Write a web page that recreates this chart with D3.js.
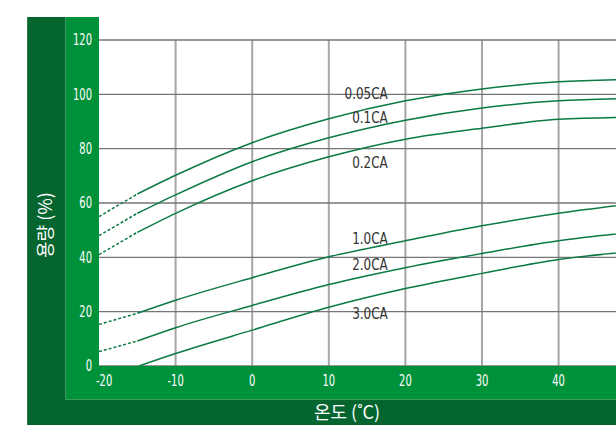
<!DOCTYPE html>
<html>
<head>
<meta charset="utf-8">
<script src="https://cdn.jsdelivr.net/npm/d3@7"></script>
<style>
  html, body { margin: 0; padding: 0; background: #fff; }
  svg { display: block; }
  .num { font-family: "DejaVu Sans Condensed", "Liberation Sans Narrow", "Roboto", sans-serif; }
  .kr { font-family: "Noto Sans CJK KR", "Noto Sans", sans-serif; }
</style>
</head>
<body>
<svg id="chart" width="616" height="425"></svg>
<script>
// ---- data ----
const temps = [-20, -15, -10, 0, 10, 20, 30, 40, 50];
const temps30 = [-14.8, -10, 0, 10, 20, 30, 40, 50];
const seriesNames = ["0.05CA", "0.1CA", "0.2CA", "1.0CA", "2.0CA", "3.0CA"];
const cap005 = [55, 63.3, 70.2, 82.2, 91, 97.6, 102, 104.6, 105.5];
const cap01  = [48, 56.2, 63, 75.2, 84, 90.5, 95, 97.6, 98.5];
const cap02  = [41, 49.2, 56.2, 68.2, 77, 83.5, 87.5, 90.8, 91.6];
const cap10  = [15.3, 19.4, 24.2, 32.5, 40.2, 46.1, 51.6, 56.2, 59.8];
const cap20  = [5.3, 9.2, 14.1, 22.3, 30, 36.2, 41.4, 46.1, 49.3];
const cap30  = [0, 4.6, 13.2, 21.6, 28.5, 34.1, 39.2, 42.2];
const dashedUntil = -15;           // below this temperature the curves are dashed
const labelTemp = 17.7;            // label right edge, in °C
const labelCap = [100.5, 91.6, 74.8, 47.1, 37.5, 19.5];
const xTicks = [-20, -10, 0, 10, 20, 30, 40];
const yTicks = [0, 20, 40, 60, 80, 100, 120];
const xTitle = "온도 (˚C)";
const yTitle = "용량 (%)";

// ---- layout ----
const W = 616, H = 425;
const plot = { left: 99, top: 40, right: 616, bottom: 366 };
const darkG = "#05652f", lightG = "#00913b", lineC = "#0b7a44";

const svg = d3.select("#chart");
const x = d3.scaleLinear().domain([-20, 50]).range([plot.left, plot.left + 7 * 76.6]);
const y = d3.scaleLinear().domain([0, 120]).range([plot.bottom, plot.top]);

// frame panels
svg.append("rect").attr("x", 27).attr("y", 17).attr("width", 38).attr("height", H - 17).attr("fill", darkG);
svg.append("rect").attr("x", 27).attr("y", 399).attr("width", W - 27).attr("height", H - 399).attr("fill", darkG);
svg.append("rect").attr("x", 65).attr("y", 17).attr("width", plot.left - 65).attr("height", 399 - 17).attr("fill", lightG);
svg.append("rect").attr("x", 65).attr("y", plot.bottom).attr("width", W - 65).attr("height", 399 - plot.bottom).attr("fill", lightG);
// subtle separator lines
svg.append("line").attr("x1", 65.5).attr("x2", 65.5).attr("y1", 17).attr("y2", 399).attr("stroke", "#3f9a62").attr("stroke-width", 1);
svg.append("line").attr("x1", 65).attr("x2", W).attr("y1", 399.5).attr("y2", 399.5).attr("stroke", "#3f9a62").attr("stroke-width", 1);
svg.append("line").attr("x1", 27.5).attr("x2", 27.5).attr("y1", 17).attr("y2", H).attr("stroke", "#2f7f4d").attr("stroke-width", 1);

// clip
svg.append("clipPath").attr("id", "clip").append("rect")
  .attr("x", plot.left).attr("y", plot.top - 2)
  .attr("width", plot.right - plot.left).attr("height", plot.bottom - plot.top + 2);

const g = svg.append("g").attr("clip-path", "url(#clip)");

// grid
g.selectAll(".vg").data(xTicks.filter(d => d > -20)).join("line")
  .attr("x1", d => x(d)).attr("x2", d => x(d))
  .attr("y1", plot.top).attr("y2", plot.bottom)
  .attr("stroke", "#a6a6a6").attr("stroke-width", 2);
g.selectAll(".hg").data(yTicks).join("line")
  .attr("x1", plot.left).attr("x2", plot.right)
  .attr("y1", d => y(d)).attr("y2", d => y(d))
  .attr("stroke", "#767676").attr("stroke-width", 1.4);

// series
const all = [
  { name: seriesNames[0], xs: temps, v: cap005 },
  { name: seriesNames[1], xs: temps, v: cap01 },
  { name: seriesNames[2], xs: temps, v: cap02 },
  { name: seriesNames[3], xs: temps, v: cap10 },
  { name: seriesNames[4], xs: temps, v: cap20 },
  { name: seriesNames[5], xs: temps30, v: cap30 }
].map(s => ({ name: s.name, pts: s.xs.map((t, i) => ({ t, c: s.v[i] })) }));

const line = d3.line().x(d => x(d.t)).y(d => y(d.c)).curve(d3.curveMonotoneX);
const straight = d3.line().x(d => x(d.t)).y(d => y(d.c));

all.forEach(s => {
  const solid = s.pts.filter(p => p.t >= dashedUntil);
  const dashed = s.pts.filter(p => p.t <= dashedUntil);
  g.append("path").attr("d", line(solid)).attr("fill", "none")
    .attr("stroke", lineC).attr("stroke-width", 1.5);
  if (dashed.length > 1) {
    g.append("path").attr("d", straight(dashed)).attr("fill", "none")
      .attr("stroke", lineC).attr("stroke-width", 1.5).attr("stroke-dasharray", "3,2");
  }
});

// helper: condensed text via horizontal scale
function squeezed(sel, px, py, sx) {
  return sel.attr("transform", (d, i) => `translate(${px(d, i)},${py(d, i)}) scale(${sx},1)`);
}

// series labels
squeezed(svg.selectAll(".lbl").data(seriesNames).join("text")
  .attr("class", "num")
  .attr("dy", "0.36em").attr("text-anchor", "end")
  .attr("font-size", 15.5).attr("fill", "#333")
  .text(d => d), () => x(labelTemp), (d, i) => y(labelCap[i]), 0.86);

// y tick labels
squeezed(svg.selectAll(".yt").data(yTicks).join("text")
  .attr("class", "num")
  .attr("dy", "0.36em").attr("text-anchor", "end")
  .attr("font-size", 15).attr("fill", "#fff")
  .text(d => d), () => 92, d => y(d), 0.74);

// x tick labels
squeezed(svg.selectAll(".xt").data(xTicks).join("text")
  .attr("class", "num")
  .attr("dy", "0.36em").attr("text-anchor", (d, i) => i === 0 ? "start" : "middle")
  .attr("font-size", 15).attr("fill", "#fff")
  .text(d => d), (d, i) => i === 0 ? x(d) - 3 : x(d), () => 381, 0.74);

// axis titles
svg.append("text").attr("class", "kr")
  .attr("x", 347).attr("y", 413).attr("dy", "0.36em")
  .attr("text-anchor", "middle").attr("font-size", 18).attr("fill", "#fff")
  .text(xTitle);
svg.append("text").attr("class", "kr")
  .attr("transform", "translate(46,225) rotate(-90)").attr("dy", "0.36em")
  .attr("text-anchor", "middle").attr("font-size", 18).attr("fill", "#fff")
  .text(yTitle);
</script>
</body>
</html>
